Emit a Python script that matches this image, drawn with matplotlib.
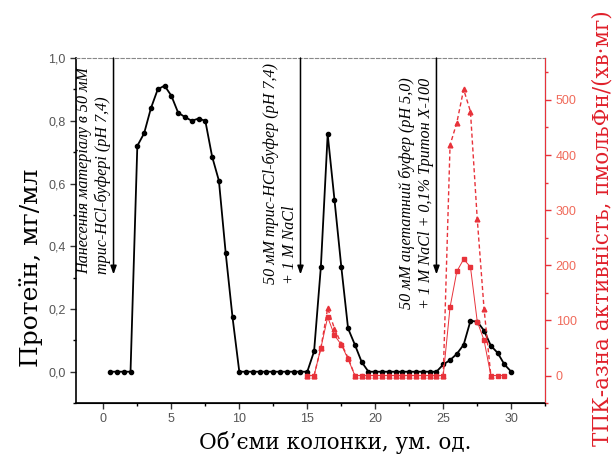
import numpy as np
import matplotlib
matplotlib.use("Agg")
import matplotlib.pyplot as plt
from matplotlib.ticker import FuncFormatter, MultipleLocator

# protein (left axis), fractions 0.5..30
protein_x = [0.5, 1.0, 1.5, 2.0, 2.5, 3.0, 3.5, 4.0, 4.5, 5.0, 5.5, 6.0, 6.5, 7.0, 7.5,
             8.0, 8.5, 9.0, 9.5, 10.0, 10.5, 11.0, 11.5, 12.0, 12.5, 13.0, 13.5, 14.0,
             14.5, 15.0, 15.5, 16.0, 16.5, 17.0, 17.5, 18.0, 18.5, 19.0, 19.5, 20.0,
             20.5, 21.0, 21.5, 22.0, 22.5, 23.0, 23.5, 24.0, 24.5, 25.0, 25.5, 26.0,
             26.5, 27.0, 27.5, 28.0, 28.5, 29.0, 29.5, 30.0]
protein_y = [0, 0, 0, 0, 0.72, 0.76, 0.84, 0.90, 0.912, 0.88, 0.826, 0.812, 0.80, 0.807, 0.80,
             0.686, 0.609, 0.378, 0.174, 0, 0, 0, 0, 0, 0, 0, 0, 0,
             0, 0, 0.065, 0.335, 0.757, 0.548, 0.335, 0.138, 0.086, 0.031, 0, 0,
             0, 0, 0, 0, 0, 0, 0, 0, 0, 0.023, 0.037, 0.057,
             0.086, 0.162, 0.160, 0.131, 0.083, 0.060, 0.023, 0]

# activity, dashed series with triangles (right axis)
act1_x = [15.0, 15.5, 16.0, 16.5, 17.0, 17.5, 18.0, 18.5, 19.0, 19.5, 20.0, 20.5, 21.0,
          21.5, 22.0, 22.5, 23.0, 23.5, 24.0, 24.5, 25.0, 25.5, 26.0, 26.5, 27.0, 27.5,
          28.0, 28.5]
act1_y = [0, 0, 50, 122, 85, 58, 32, 0, 0, 0, 0, 0, 0,
          0, 0, 0, 0, 0, 0, 0, 0, 418, 459, 519, 479, 284,
          121, 0]

# activity, solid thin series with squares (right axis)
act2_x = [15.0, 15.5, 16.0, 16.5, 17.0, 17.5, 18.0, 18.5, 19.0, 19.5, 20.0, 20.5, 21.0,
          21.5, 22.0, 22.5, 23.0, 23.5, 24.0, 24.5, 25.0, 25.5, 26.0, 26.5, 27.0, 27.5,
          28.0, 28.5, 29.0, 29.5]
act2_y = [0, 0, 50, 106, 73, 56, 30, 0, 0, 0, 0, 0, 0,
          0, 0, 0, 0, 0, 0, 0, 0, 124, 189, 211, 197, 98,
          64, 0, 0, 0]

# buffer change arrows
arrow_x = [0.75, 14.5, 24.5]
arrow_text = ["Нанесення матеріалу в 50 мМ\nтрис-HCl-буфері (pH 7,4)",
              "50 мМ трис-HCl-буфер (pH 7,4)\n+ 1 М NaCl",
              "50 мМ ацетатний буфер (pH 5,0)\n+ 1 М NaCl + 0,1% Тритон X-100"]
text_x = [0.55, 14.3, 24.3]
text_y = [0.31, 0.28, 0.20]

RED = "#e8323a"
TICKGRAY = "#555555"

fig = plt.figure(figsize=(6.14, 4.57), dpi=100)
ax = fig.add_axes([0.124, 0.118, 0.764, 0.755])
ax2 = ax.twinx()

ax.plot(protein_x, protein_y, color="black", lw=1.3, marker="o", ms=3.0, zorder=5)
ax2.plot(act1_x, act1_y, color=RED, lw=1.0, ls=(0, (3, 2)), marker="^", ms=3.4, zorder=4)
ax2.plot(act2_x, act2_y, color=RED, lw=0.7, marker="s", ms=2.6, zorder=4)

ax.set_xlim(-2, 32.5)
ax.set_ylim(-0.1, 1.0)
ax2.set_ylim(-50, 576)

comma = FuncFormatter(lambda v, p: f"{v:.1f}".replace(".", ","))
ax.yaxis.set_major_locator(MultipleLocator(0.2))
ax.yaxis.set_minor_locator(MultipleLocator(0.1))
ax.yaxis.set_major_formatter(comma)
ax.xaxis.set_major_locator(MultipleLocator(5))
ax.xaxis.set_minor_locator(MultipleLocator(2.5))
ax2.yaxis.set_major_locator(MultipleLocator(100))
ax2.yaxis.set_minor_locator(MultipleLocator(50))
ax2.set_yticks([0, 100, 200, 300, 400, 500])

for a in (ax, ax2):
    a.tick_params(which="major", length=4, width=1)
    a.tick_params(which="minor", length=2.5, width=1)
ax.tick_params(axis="both", labelsize=9, labelcolor=TICKGRAY, color="#333333")
ax2.tick_params(axis="y", which="both", colors=RED, labelsize=9, labelcolor="#f06a5a")
for lab in ax.get_xticklabels() + ax.get_yticklabels() + ax2.get_yticklabels():
    lab.set_family("Liberation Sans")

ax.spines["top"].set_linestyle((0, (3, 2)))
ax.spines["top"].set_color("#888888")
ax2.spines["top"].set_visible(False)
ax2.spines["right"].set_color(RED)
ax2.spines["left"].set_visible(False)
ax.spines["left"].set_linewidth(1.2)
ax.spines["bottom"].set_linewidth(1.2)

for ax_x, txt, tx, ty in zip(arrow_x, arrow_text, text_x, text_y):
    ax.annotate("", xy=(ax_x, 0.31), xytext=(ax_x, 1.0),
                arrowprops=dict(arrowstyle="-|>,head_length=0.5,head_width=0.18",
                                color="black", lw=1.1, shrinkA=0, shrinkB=0))
    ax.text(tx, ty, txt, rotation=90, ha="right", va="bottom", multialignment="left",
            family="Liberation Serif", style="italic", fontsize=11.6, linespacing=1.2)

fig.text(0.05, 1 - 268 / 457, "Протеїн, мг/мл", rotation=90, ha="center", va="center",
         family="DejaVu Serif", fontsize=18)
fig.text(335 / 614, 1 - 442 / 457, "Об’єми колонки, ум. од.", ha="center", va="center",
         family="DejaVu Serif", fontsize=15.5)
fig.text(603 / 614, 1 - 228 / 457, "ТПК-азна активність, пмольФн/(хв·мг)", rotation=90,
         ha="center", va="center", family="DejaVu Serif", fontsize=15.5, color="#e0202a")

fig.savefig("out.png", dpi=100)
